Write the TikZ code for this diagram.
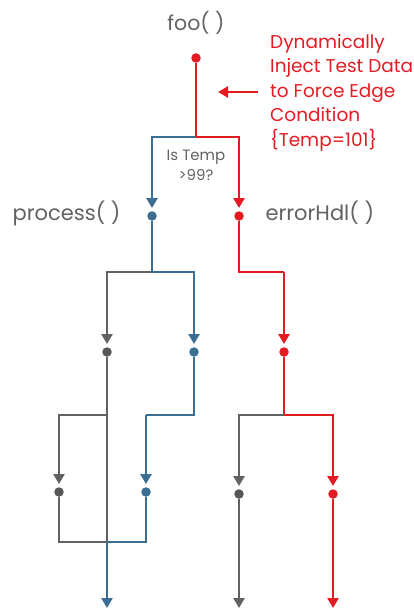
\documentclass[tikz,border=0pt]{standalone}
\usepackage{fontspec}
\setmainfont{Poppins}
\usetikzlibrary{arrows.meta}
\definecolor{cblue}{HTML}{3B6E93}
\definecolor{cred}{HTML}{E31B23}
\definecolor{cgray}{HTML}{626262}
\definecolor{cdot}{HTML}{575757}
\begin{document}
\begin{tikzpicture}[x=1pt,y=-1pt,
  ln/.style={line width=2.5pt},
  arr/.style={ln,-{Triangle[width=11pt,length=10pt]},shorten >=3pt},
  endarr/.style={ln,-{Triangle[width=11pt,length=10pt]}},
  dotnode/.style={circle,inner sep=0pt,minimum size=9.5pt,fill=#1},
  lbl/.style={text=cgray,font=\fontsize{21}{25}\selectfont}]
\useasboundingbox (0,0) rectangle (414,612);
% labels
\node[text=cgray,font=\fontsize{20.5}{25}\selectfont] (foo) at (196,23) {foo( )};
\node[lbl,anchor=east] (proc) at (124,213) {process( )};
\node[lbl,anchor=west] (err) at (262,213) {errorHdl( )};
\node[text=cgray,align=center,font=\fontsize{15}{20}\selectfont] (cond) at (196,165) {Is Temp\\>99?};
\node[text=cred,align=left,anchor=north west,inner sep=0pt,font=\fontsize{18.5}{24.5}\selectfont] (note) at (270,34)
  {Dynamically\\Inject Test Data\\to Force Edge\\Condition\\\{Temp=101\}};
% dots
\node[dotnode=cred] (d0) at (196,58) {};
\node[dotnode=cblue] (dP) at (152,216) {};
\node[dotnode=cred] (dE) at (239,216) {};
\node[dotnode=cdot] (dG1) at (107,352) {};
\node[dotnode=cblue] (dB1) at (194,352) {};
\node[dotnode=cred] (dR1) at (284,352) {};
\node[dotnode=cdot] (dG2) at (59,492) {};
\node[dotnode=cblue] (dB2) at (146,492) {};
\node[dotnode=cdot] (dG3) at (239,494) {};
\node[dotnode=cred] (dR2) at (333,494) {};
% coordinates
\coordinate (s0) at (196,137);
\coordinate (s1) at (152,272);
\coordinate (rc) at (284,272);
\coordinate (s2) at (107,415);
\coordinate (bc) at (146,415);
\coordinate (s3) at (284,415);
\coordinate (j) at (107,542);
\coordinate (endB) at (107,608);
\coordinate (endG) at (239,608);
\coordinate (endR) at (333,608);
\coordinate (a1) at (258,92);
\coordinate (a2) at (218,92);
% top
\draw[cblue,arr] (s0) -| (dP);
\draw[cred,arr] (s0) -| (dE);
\draw[cred,ln] (d0) -- (s0);
\draw[cred,endarr] (a1) -- (a2);
% left
\draw[cblue,ln] (dP) -- (s1);
\draw[cgray,arr] (s1) -| (dG1);
\draw[cblue,arr] (s1) -| (dB1);
\draw[cgray,ln] (dG1) -- (j);
\draw[cgray,arr] (s2) -| (dG2);
\draw[cblue,ln] (dB1) |- (bc);
\draw[cblue,arr] (bc) -- (dB2);
\draw[cgray,ln] (dG2) |- (j);
\draw[cblue,ln] (dB2) |- (j);
\draw[cblue,endarr] (j) -- (endB);
% right
\draw[cred,ln] (dE) |- (rc);
\draw[cred,arr] (rc) -- (dR1);
\draw[cred,ln] (dR1) -- (s3);
\draw[cgray,arr] (s3) -| (dG3);
\draw[cred,arr] (s3) -| (dR2);
\draw[cgray,endarr] (dG3) -- (endG);
\draw[cred,endarr] (dR2) -- (endR);
\end{tikzpicture}
\end{document}
